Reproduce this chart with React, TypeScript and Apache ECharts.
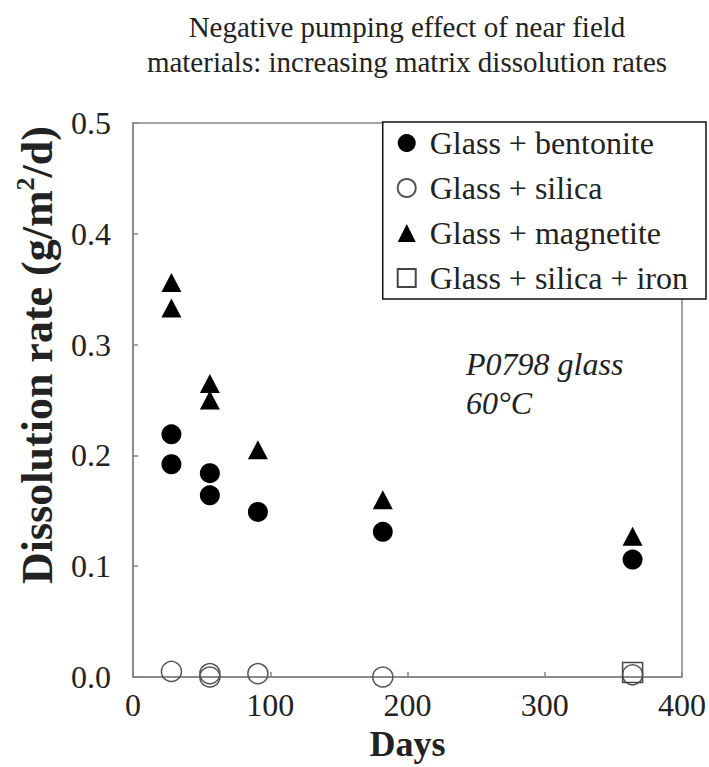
import React, { useEffect, useRef } from "react";
import * as echarts from "echarts";

const FONT = "Liberation Serif";

const titleLines = [
  "Negative pumping effect of near field",
  "materials: increasing matrix dissolution rates",
];
const seriesNames = [
  "Glass + bentonite",
  "Glass + silica",
  "Glass + magnetite",
  "Glass + silica + iron",
];
const seriesIcons = ["circle", "circle", "triangle", "rect"];
const xTicks = [0, 100, 200, 300, 400];
const yTicks = [0, 0.1, 0.2, 0.3, 0.4, 0.5];

const bentoniteDays = [28, 28, 56, 56, 91, 182, 364];
const bentoniteRate = [0.219, 0.192, 0.184, 0.164, 0.149, 0.131, 0.106];
const silicaDays = [28, 56, 56, 91, 182, 364];
const silicaRate = [0.005, 0.003, 0.0, 0.003, 0.0, 0.002];
const magnetiteDays = [28, 28, 56, 56, 91, 182, 364];
const magnetiteRate = [0.356, 0.333, 0.265, 0.25, 0.205, 0.16, 0.127];
const ironDays = [364];
const ironRate = [0.004];

const annotation = ["P0798 glass", "60°C"];

const zip = (a: number[], b: number[]) => a.map((v, i) => [v, b[i]]);

export default function App() {
  const ref = useRef<HTMLDivElement>(null);
  useEffect(() => {
    if (!ref.current) return;
    const chart = echarts.init(ref.current, undefined, { renderer: "svg" });
    const axisGray = "#858585";
    chart.setOption({
      animation: false,
      backgroundColor: "#fff",
      title: {
        text: titleLines.join("\n"),
        left: 402,
        top: 4,
        textAlign: "center",
        textStyle: {
          fontFamily: FONT,
          fontSize: 29,
          fontWeight: "normal",
          lineHeight: 35,
          color: "#222",
        },
      },
      grid: {
        left: 133,
        right: 22,
        top: 123,
        bottom: 85,
        show: true,
        borderColor: axisGray,
        borderWidth: 1.5,
        backgroundColor: "transparent",
      },
      legend: {
        orient: "vertical",
        right: 3,
        top: 122,
        data: seriesNames.map((n, i) => ({ name: n, icon: seriesIcons[i] })),
        backgroundColor: "#fff",
        borderColor: "#111",
        borderWidth: 1.5,
        borderRadius: 0,
        padding: [5, 18, 5, 14],
        itemWidth: 18,
        itemHeight: 18,
        itemGap: 13,
        textStyle: {
          fontFamily: FONT,
          fontSize: 32,
          lineHeight: 32,
          color: "#222",
          padding: [0, 0, 0, 9],
        },
        z: 10,
      },
      xAxis: {
        type: "value",
        min: xTicks[0],
        max: xTicks[xTicks.length - 1],
        interval: 100,
        name: "Days",
        nameLocation: "middle",
        nameGap: 49,
        nameTextStyle: {
          fontFamily: FONT,
          fontSize: 36,
          fontWeight: "bold",
          color: "#222",
        },
        axisLine: { show: true, lineStyle: { color: axisGray, width: 1.5 } },
        axisTick: { show: true, inside: true, length: 5, lineStyle: { color: axisGray, width: 1.5 } },
        splitLine: { show: false },
        axisLabel: {
          fontFamily: FONT,
          fontSize: 32,
          color: "#222",
          margin: 12,
        },
      },
      yAxis: {
        type: "value",
        min: yTicks[0],
        max: yTicks[yTicks.length - 1],
        interval: 0.1,
        axisLine: { show: true, lineStyle: { color: axisGray, width: 1.5 } },
        axisTick: { show: true, inside: true, length: 5, lineStyle: { color: axisGray, width: 1.5 } },
        splitLine: { show: false },
        axisLabel: {
          fontFamily: FONT,
          fontSize: 32,
          color: "#222",
          margin: 22,
          padding: [0, 0, 24, 0],
          formatter: (v: number) => v.toFixed(1),
        },
      },
      graphic: [
        {
          type: "text",
          x: 37,
          y: 355,
          rotation: Math.PI / 2,
          style: {
            text: "{a|Dissolution rate (g/m}{b|2}{a|/d)}",
            align: "center",
            verticalAlign: "middle",
            fill: "#222",
            rich: {
              a: { fontFamily: FONT, fontSize: 44, fontWeight: "bold", lineHeight: 50, fill: "#222" },
              b: { fontFamily: FONT, fontSize: 26, fontWeight: "bold", lineHeight: 28, verticalAlign: "top", fill: "#222" },
            },
          },
        },
        {
          type: "text",
          x: 466,
          y: 344,
          style: {
            text: annotation.join("\n"),
            fontFamily: FONT,
            fontSize: 32,
            fontStyle: "italic",
            lineHeight: 39,
            fill: "#222",
            align: "left",
            verticalAlign: "top",
          },
        },
      ],
      series: [
        {
          name: seriesNames[0],
          type: "scatter",
          symbol: "circle",
          symbolSize: 20,
          itemStyle: { color: "#000", opacity: 1 },
          data: zip(bentoniteDays, bentoniteRate),
        },
        {
          name: seriesNames[1],
          type: "scatter",
          symbol: "circle",
          symbolSize: 20,
          itemStyle: { color: "rgba(255,255,255,0)", borderColor: "#555", borderWidth: 1.5, opacity: 1 },
          data: zip(silicaDays, silicaRate),
        },
        {
          name: seriesNames[2],
          type: "scatter",
          symbol: "triangle",
          symbolSize: [20, 19],
          itemStyle: { color: "#000", opacity: 1 },
          data: zip(magnetiteDays, magnetiteRate),
        },
        {
          name: seriesNames[3],
          type: "scatter",
          symbol: "rect",
          symbolSize: 20,
          itemStyle: { color: "rgba(255,255,255,0)", borderColor: "#444", borderWidth: 1.5, opacity: 1 },
          data: zip(ironDays, ironRate),
        },
      ],
    });
    return () => chart.dispose();
  }, []);
  return (
    <div
      ref={ref}
      style={{ position: "fixed", left: 0, top: 0, width: 709, height: 767, background: "#fff" }}
    />
  );
}
